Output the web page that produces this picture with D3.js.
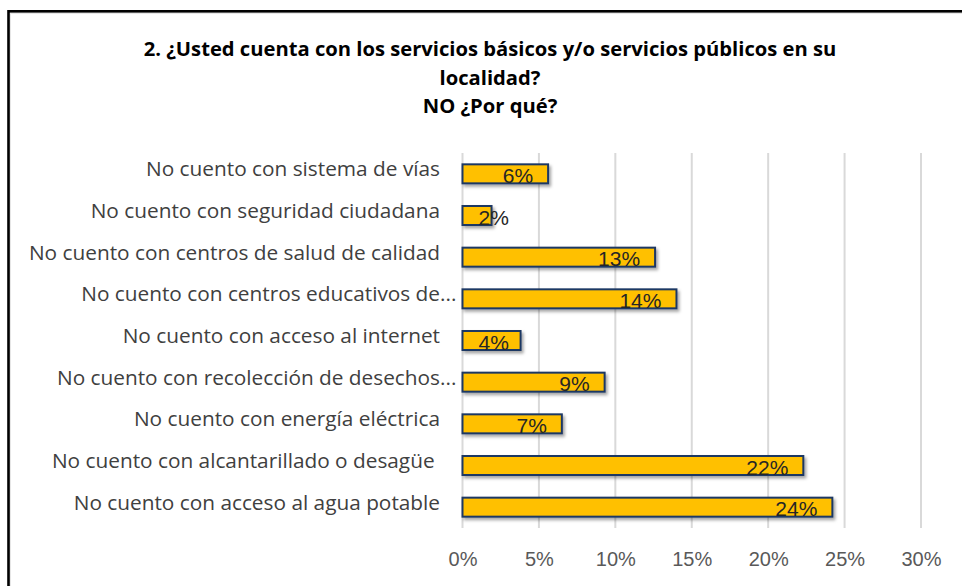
<!DOCTYPE html>
<html>
<head>
<meta charset="utf-8">
<script src="https://cdn.jsdelivr.net/npm/d3@7"></script>
<style>
  body { margin: 0; background: #fff; }
  svg { display: block; }
</style>
</head>
<body>
<svg id="chart" width="962" height="586"></svg>
<script>
// Servicios basicos -- NO, por que? (horizontal bars)

var titleLines = [
  "2. ¿Usted cuenta con los servicios básicos y/o servicios públicos en su",
  "localidad?",
  "NO ¿Por qué?"
];

var categories = [
  "No cuento con sistema de vías",
  "No cuento con seguridad ciudadana",
  "No cuento con centros de salud de calidad",
  "No cuento con centros educativos de...",
  "No cuento con acceso al internet",
  "No cuento con recolección de desechos...",
  "No cuento con energía eléctrica",
  "No cuento con alcantarillado o desagüe ",
  "No cuento con acceso al agua potable"
];

var values = [0.056, 0.019, 0.126, 0.140, 0.038, 0.093, 0.065, 0.223, 0.242];

var tickValues = [0, 0.05, 0.10, 0.15, 0.20, 0.25, 0.30];

var width = 962, height = 586;
var plotLeft = 462.5, plotRight = 921, plotTop = 153, plotBottom = 528;

var svg = d3.select("#chart");

// outer frame (runs off the right and bottom edge, as in the picture)
svg.append("rect")
  .attr("x", 10).attr("y", 13)
  .attr("width", 1000).attr("height", 700)
  .attr("fill", "none").attr("stroke", "#e6e6e6").attr("stroke-width", 2);
svg.append("rect")
  .attr("x", 8.5).attr("y", 11.3)
  .attr("width", 1000).attr("height", 700)
  .attr("fill", "none").attr("stroke", "#000").attr("stroke-width", 2.6);

var defs = svg.append("defs");
var shadow = defs.append("filter").attr("id", "shadow")
  .attr("x", "-10%").attr("y", "-30%").attr("width", "130%").attr("height", "180%");
shadow.append("feDropShadow")
  .attr("dx", 2).attr("dy", 2.5).attr("stdDeviation", 1.4)
  .attr("flood-color", "#000").attr("flood-opacity", 0.35);

// Title
svg.append("text")
  .attr("x", 490).attr("y", 56)
  .attr("text-anchor", "middle")
  .style("font-family", "'Open Sans', sans-serif")
  .style("font-weight", "bold")
  .style("font-size", "20.2px")
  .attr("fill", "#000")
  .selectAll("tspan")
  .data(titleLines)
  .join("tspan")
  .attr("x", 490)
  .attr("dy", function (d, i) { return i === 0 ? 0 : 28.5; })
  .text(function (d) { return d; });

var x = d3.scaleLinear().domain([0, 0.30]).range([plotLeft, plotRight]);
var y = d3.scaleBand().domain(categories)
  .range([plotTop, plotBottom])
  .paddingInner(0.544).paddingOuter(0.272);

// Vertical gridlines
svg.append("g").attr("class", "grid")
  .selectAll("line")
  .data(tickValues)
  .join("line")
  .attr("x1", function (d) { return x(d); })
  .attr("x2", function (d) { return x(d); })
  .attr("y1", plotTop).attr("y2", plotBottom)
  .attr("stroke", "#d9d9d9").attr("stroke-width", 2);

// x axis tick labels
var xAxis = d3.axisBottom(x).tickValues(tickValues)
  .tickFormat(d3.format(".0%")).tickSize(0).tickPadding(0);
var gx = svg.append("g")
  .attr("transform", "translate(0," + 550 + ")")
  .call(xAxis);
gx.select(".domain").remove();
gx.selectAll("text")
  .attr("dy", "0.8em")
  .style("font-family", "'Liberation Sans', Arial, sans-serif")
  .style("font-size", "20px")
  .attr("fill", "#595959");

// Category labels
var catLabels = svg.append("g").selectAll("text")
  .data(categories)
  .join("text")
  .attr("y", function (d) { return y(d) + y.bandwidth() / 2 + 2.5; })
  .style("font-family", "'Open Sans', sans-serif")
  .style("font-size", "20.8px")
  .style("white-space", "pre")
  .attr("fill", "#404040")
  .text(function (d) { return d; });

// right-align on the text before the ellipsis, so the dots hang out a little
catLabels.each(function (d) {
  var node = this;
  var full = node.getComputedTextLength();
  var hang = 0;
  if (d.slice(-3) === "...") {
    node.textContent = d.slice(0, -3);
    hang = full - node.getComputedTextLength();
    node.textContent = d;
  }
  d3.select(node).attr("x", 440 - full + hang);
});

// Bars
svg.append("g").selectAll("rect")
  .data(values)
  .join("rect")
  .attr("x", x(0))
  .attr("y", function (d, i) { return y(categories[i]); })
  .attr("width", function (d) { return x(d) - x(0); })
  .attr("height", y.bandwidth())
  .attr("fill", "#FFC000")
  .attr("stroke", "#1F3864").attr("stroke-width", 2)
  .attr("filter", "url(#shadow)");

// Value labels, inside the bar end
var fmt = d3.format(".0%");
var valLabels = svg.append("g").selectAll("text")
  .data(values)
  .join("text")
  .attr("y", function (d, i) { return y(categories[i]) + y.bandwidth() - 0.5; })
  .style("font-family", "'Liberation Sans', Arial, sans-serif")
  .style("font-size", "21px")
  .attr("fill", "#262626")
  .text(function (d) { return fmt(d); });

valLabels.each(function (d) {
  var w = this.getComputedTextLength();
  var left = Math.max(x(d) - 15 - w, x(0) + 16);
  d3.select(this).attr("x", left);
});
</script>
</body>
</html>
